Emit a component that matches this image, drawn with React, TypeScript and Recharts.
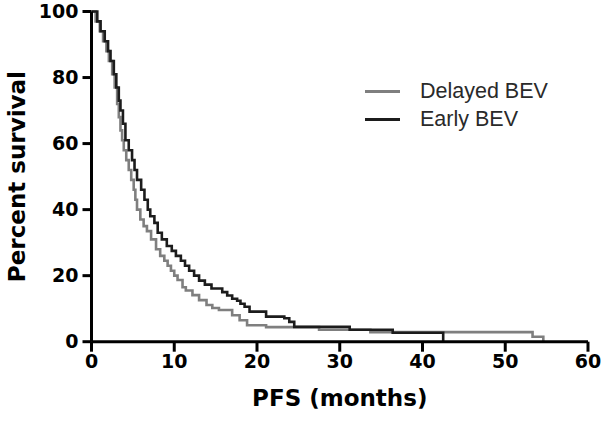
import React from 'react';
import { LineChart, Line, XAxis, YAxis } from 'recharts';

const delayedMonths = [0, 0.5, 1.0, 1.4, 1.8, 2.1, 2.5, 2.8, 3.1, 3.3, 3.5, 3.7, 3.9, 4.2, 4.5, 4.8, 5.1, 5.3, 5.5, 5.9, 6.3, 6.7, 7.2, 7.8, 8.3, 8.8, 9.2, 9.6, 10.0, 10.4, 11.0, 11.4, 12.2, 13.0, 13.9, 14.6, 15.4, 17.0, 17.9, 18.8, 21.1, 27.5, 33.7, 53.3, 54.6];
const delayedSurvival = [100, 97, 94, 91, 88, 85, 81, 77, 72, 68, 64, 61, 58, 55, 52, 49, 46, 43, 40, 37, 35, 33.5, 31, 28, 26, 24.5, 23, 21.5, 20, 18.7, 16.5, 15.5, 14.1, 12.6, 11.1, 10.2, 9.6, 8.0, 6.5, 5.0, 4.4, 3.6, 2.9, 1.5, 0];

const earlyMonths = [0, 0.7, 1.1, 1.6, 2.0, 2.3, 2.7, 3.0, 3.3, 3.5, 3.8, 4.1, 4.5, 4.9, 5.2, 5.5, 6.0, 6.4, 6.8, 7.1, 7.6, 8.0, 8.5, 9.1, 9.7, 10.2, 10.8, 11.3, 11.8, 12.4, 13.0, 13.7, 14.5, 15.8, 16.4, 17.0, 17.6, 18.0, 18.5, 19.1, 21.1, 23.3, 23.9, 24.5, 31.2, 36.4, 42.5];
const earlySurvival = [100, 97, 94, 91, 88, 85, 81, 77, 73, 70, 66, 61, 58, 55, 52, 49, 46, 43, 40, 38, 36, 33, 31, 29, 27.5, 26, 24.5, 23, 21.5, 20, 18.5, 17.3, 16.1, 15, 14, 13, 12.4, 11.5, 10.6, 9.1, 7.6, 7.1, 6.0, 4.5, 3.6, 2.7, 0];

const xTicks = [0, 10, 20, 30, 40, 50, 60];
const yTicks = [0, 20, 40, 60, 80, 100];

const seriesNames = ['Delayed BEV', 'Early BEV'];
const seriesColors = ['#7f7f7f', '#1c1c1c'];

const delayedData = delayedMonths.map((t, i) => ({ t, s: delayedSurvival[i] }));
const earlyData = earlyMonths.map((t, i) => ({ t, s: earlySurvival[i] }));

const tickStyle = { fontFamily: 'DejaVu Sans', fontWeight: 'bold', fontSize: 19, fill: '#000' } as any;

const YTitle = (props: any) => {
  const vb = props.viewBox || {};
  const cy = (vb.y || 0) + (vb.height || 0) / 2;
  const x = 25;
  return (
    <text x={x} y={cy} transform={`rotate(-90 ${x} ${cy})`} textAnchor="middle"
      fontFamily="DejaVu Sans" fontWeight="bold" fontSize={23} fill="#000">Percent survival</text>
  );
};

const XTitle = (props: any) => {
  const vb = props.viewBox || {};
  const cx = (vb.x || 0) + (vb.width || 0) / 2;
  return (
    <text x={cx} y={406} textAnchor="middle" fontFamily="DejaVu Sans" fontWeight="bold" fontSize={23} fill="#000">PFS (months)</text>
  );
};

const LegendBox = () => (
  <div style={{ position: 'absolute', left: 365, top: 78, fontFamily: '"Liberation Sans", Arial, sans-serif', fontSize: 21.5, color: '#2a2a2a' }}>
    {seriesNames.map((n, i) => (
      <div key={n} style={{ display: 'flex', alignItems: 'center', height: 27.5 }}>
        <div style={{ width: 35, height: 3, background: seriesColors[i], marginRight: 20 }} />
        <span>{n}</span>
      </div>
    ))}
  </div>
);

export default function App() {
  return (
    <div style={{ position: 'absolute', left: 0, top: 0, width: 601, height: 421, background: '#fff' }}>
      <LineChart width={601} height={421} margin={{ top: 11.5, right: 13, bottom: 0, left: 0 }}>
        <XAxis type="number" dataKey="t" domain={[0, 60]} ticks={xTicks} allowDataOverflow
          height={79.3} tickSize={10} tickMargin={3}
          axisLine={{ stroke: '#000', strokeWidth: 3 }} tickLine={{ stroke: '#000', strokeWidth: 3 }}
          tick={tickStyle} label={<XTitle />} />
        <YAxis type="number" domain={[0, 100]} ticks={yTicks} width={91.5}
          tickSize={9} tickMargin={4}
          axisLine={{ stroke: '#000', strokeWidth: 3 }} tickLine={{ stroke: '#000', strokeWidth: 3 }}
          tick={tickStyle} label={<YTitle />} />
        <Line data={delayedData} dataKey="s" name={seriesNames[0]} type="stepAfter" stroke={seriesColors[0]}
          strokeWidth={2.6} dot={false} isAnimationActive={false} />
        <Line data={earlyData} dataKey="s" name={seriesNames[1]} type="stepAfter" stroke={seriesColors[1]}
          strokeWidth={2.6} dot={false} isAnimationActive={false} />
      </LineChart>
      <LegendBox />
    </div>
  );
}
